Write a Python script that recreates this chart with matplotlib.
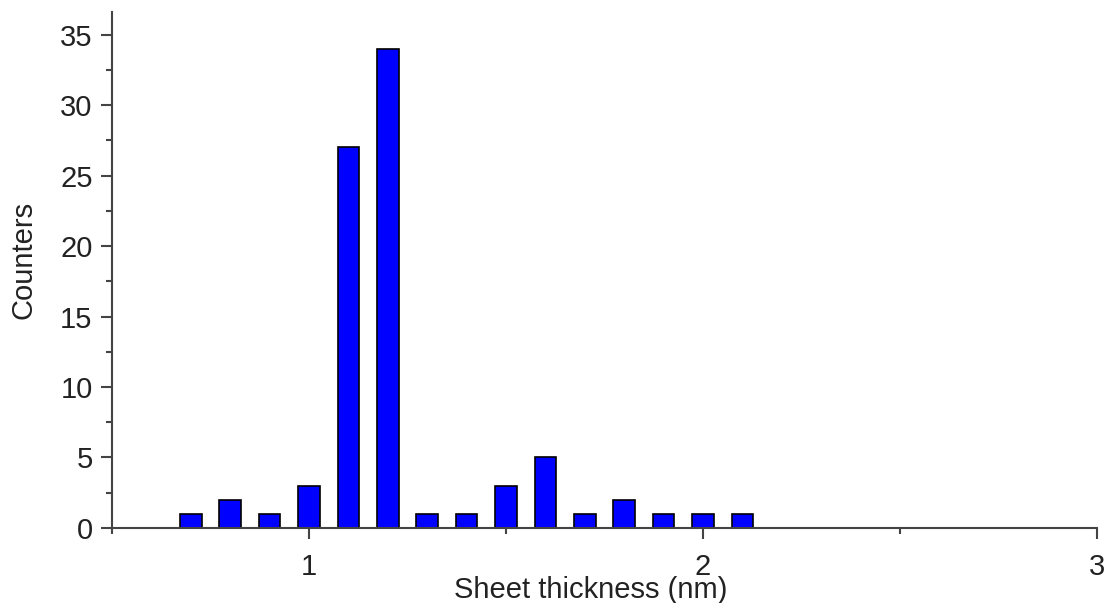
import matplotlib.pyplot as plt
from matplotlib.ticker import MultipleLocator

plt.rcParams['font.family'] = ['Liberation Sans', 'DejaVu Sans']

# sheet thickness histogram
thickness = [0.7, 0.8, 0.9, 1.0, 1.1, 1.2, 1.3, 1.4, 1.5, 1.6, 1.7, 1.8, 1.9, 2.0, 2.1]
counts = [1, 2, 1, 3, 27, 34, 1, 1, 3, 5, 1, 2, 1, 1, 1]

fig = plt.figure(figsize=(11.08, 6.03), dpi=100)
ax = fig.add_axes([0.1011, 0.1244, 0.889, 0.8557])

ax.bar(thickness, counts, width=0.055, color='#0000ff', edgecolor='black', linewidth=1.2)

ax.set_xlim(0.5, 3.0)
ax.set_ylim(0, 36.6)
ax.xaxis.set_major_locator(MultipleLocator(1))
ax.xaxis.set_minor_locator(MultipleLocator(0.5))
ax.yaxis.set_major_locator(MultipleLocator(5))
ax.yaxis.set_minor_locator(MultipleLocator(2.5))

for s in ['top', 'right']:
    ax.spines[s].set_visible(False)
for s in ['left', 'bottom']:
    ax.spines[s].set_color('#444444')
    ax.spines[s].set_linewidth(1.5)

ax.tick_params(which='major', direction='out', length=8, width=1.5, color='#444444',
               labelsize=21, labelcolor='#222222')
ax.tick_params(which='minor', direction='out', length=4, width=1.5, color='#444444')
ax.tick_params(axis='y', pad=6)
ax.tick_params(axis='x', pad=10)

ax.set_xlabel('Sheet thickness (nm)', fontsize=21, color='#222222')
ax.xaxis.set_label_coords(0.486, -0.094)
ax.set_ylabel('Counters', fontsize=21, color='#222222')
ax.yaxis.set_label_coords(-0.076, 0.52)

fig.savefig('out.png', dpi=100)
